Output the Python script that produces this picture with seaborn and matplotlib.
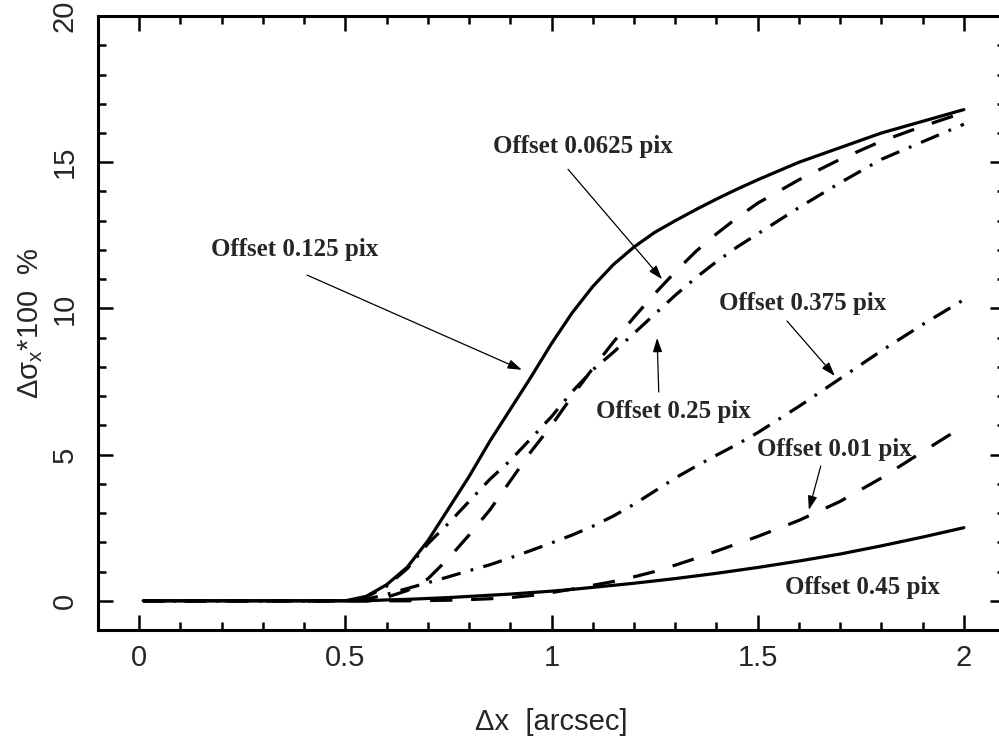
import pandas as pd
import matplotlib
matplotlib.use('Agg')
import matplotlib.pyplot as plt
from matplotlib.ticker import MultipleLocator, FuncFormatter
import seaborn as sns

# separation in arcsec
dx = [0.01, 0.5, 0.55, 0.6, 0.65, 0.7, 0.75, 0.8, 0.85, 0.9, 0.95, 1.0,
      1.05, 1.1, 1.15, 1.2, 1.25, 1.3, 1.35, 1.4, 1.45, 1.5,
      1.6, 1.7, 1.8, 1.9, 2.0]

# delta sigma_x * 100 (%) for each sub-pixel offset
off_0125 = [0, 0, 0.15, 0.55, 1.15, 2.05, 3.15, 4.25, 5.45, 6.55, 7.65, 8.8,
            9.85, 10.75, 11.5, 12.1, 12.6, 13.0, 13.38, 13.74, 14.08, 14.4,
            15.0, 15.5, 16.0, 16.4, 16.8]
off_00625 = [0, 0, 0.0, 0.12, 0.35, 0.75, 1.45, 2.25, 3.1, 4.1, 5.1, 6.0,
             7.0, 7.95, 8.85, 9.7, 10.5, 11.25, 11.95, 12.55, 13.1, 13.6,
             14.4, 15.1, 15.72, 16.23, 16.7]
off_025 = [0, 0, 0.12, 0.5, 1.1, 1.95, 2.65, 3.4, 4.15, 4.8, 5.55, 6.3,
           7.15, 7.9, 8.5, 9.15, 9.8, 10.45, 11.05, 11.6, 12.1, 12.55,
           13.45, 14.3, 15.1, 15.7, 16.3]
off_0375 = [0, 0, 0.05, 0.22, 0.42, 0.62, 0.82, 1.03, 1.23, 1.47, 1.72, 1.98,
            2.25, 2.55, 2.9, 3.3, 3.75, 4.2, 4.6, 4.98, 5.35, 5.75,
            6.65, 7.6, 8.55, 9.45, 10.3]
off_001 = [0, 0, 0, 0, 0, 0.01, 0.02, 0.04, 0.07, 0.11, 0.18, 0.28,
           0.4, 0.53, 0.66, 0.82, 1.0, 1.22, 1.45, 1.7, 1.95, 2.2,
           2.75, 3.4, 4.2, 5.1, 5.98]
off_045 = [0, 0, 0, 0.03, 0.05, 0.08, 0.11, 0.15, 0.19, 0.23, 0.28, 0.33,
           0.39, 0.46, 0.53, 0.6, 0.68, 0.76, 0.85, 0.94, 1.04, 1.14,
           1.36, 1.6, 1.88, 2.18, 2.5]

curves = {
    '0.125': off_0125,
    '0.0625': off_00625,
    '0.25': off_025,
    '0.375': off_0375,
    '0.01': off_001,
    '0.45': off_045,
}

df = pd.concat([pd.DataFrame({'dx': dx, 'dsig': v, 'offset': k})
                for k, v in curves.items()], ignore_index=True)

dashed = (16, 13.5)
dashdot = (14, 7.5, 2, 7.5)
dash_map = {'0.125': '', '0.45': '', '0.0625': dashed, '0.01': dashed,
            '0.25': dashdot, '0.375': dashdot}

sns.set_style('ticks')
plt.rcParams['font.family'] = ['Liberation Sans', 'DejaVu Sans']
plt.rcParams['mathtext.fontset'] = 'custom'
plt.rcParams['mathtext.rm'] = 'Liberation Sans'
plt.rcParams['lines.scale_dashes'] = False

fig = plt.figure(figsize=(9.99, 7.4), dpi=100)
ax = fig.add_axes([0.0981, 0.1486, 0.908, 0.8297])

sns.lineplot(data=df, x='dx', y='dsig', style='offset', dashes=dash_map,
             color='black', lw=2.3, estimator=None, legend=False, ax=ax)

ax.set_xlim(-0.1, 2.1)
ax.set_ylim(-1, 20)
ax.xaxis.set_major_locator(MultipleLocator(0.5))
ax.xaxis.set_minor_locator(MultipleLocator(0.1))
ax.yaxis.set_major_locator(MultipleLocator(5))
ax.yaxis.set_minor_locator(MultipleLocator(1))
ax.xaxis.set_major_formatter(FuncFormatter(lambda v, p: f'{v:g}'))
ax.yaxis.set_major_formatter(FuncFormatter(lambda v, p: f'{v:g}'))

ax.tick_params(which='both', direction='in', top=True, right=True,
               width=1.8, color='black')
ax.tick_params(which='major', length=11)
ax.tick_params(which='minor', length=6)
ax.tick_params(axis='both', labelsize=21, pad=10)
ax.tick_params(axis='y', labelrotation=90, pad=14)
for lbl in ax.get_yticklabels():
    lbl.set_va('center')

for sp in ax.spines.values():
    sp.set_linewidth(2.2)
    sp.set_color('black')
    sp.set_visible(True)

ax.set_xlabel('Δx  [arcsec]', fontsize=21, labelpad=26)
ax.set_ylabel('Δσ$_\\mathregular{x}$*100  %', fontsize=21, labelpad=4)

# labels: text centre, arrow tail, arrow head (data coords)
notes = [
    ('Offset 0.0625 pix', (1.076, 15.55), (1.04, 14.76), (1.268, 11.0)),
    ('Offset 0.125 pix', (0.378, 12.0), (0.407, 11.14), (0.928, 7.9)),
    ('Offset 0.25 pix', (1.295, 6.49), (1.26, 7.14), (1.256, 8.99)),
    ('Offset 0.375 pix', (1.608, 10.18), (1.571, 9.57), (1.687, 7.69)),
    ('Offset 0.01 pix', (1.685, 5.16), (1.653, 4.61), (1.624, 3.11)),
    ('Offset 0.45 pix', (1.755, 0.44), None, None),
]
for txt, pos, tail, head in notes:
    ax.text(pos[0], pos[1], txt, family=['Liberation Serif', 'DejaVu Serif'],
            fontweight='bold', fontsize=18, ha='center', va='center')
    if tail is not None:
        ax.annotate('', xy=head, xytext=tail,
                    arrowprops=dict(arrowstyle='-|>,head_length=0.6,head_width=0.2',
                                    color='black', lw=0.9, shrinkA=0, shrinkB=0,
                                    mutation_scale=14))

fig.savefig('out.png', dpi=100)
